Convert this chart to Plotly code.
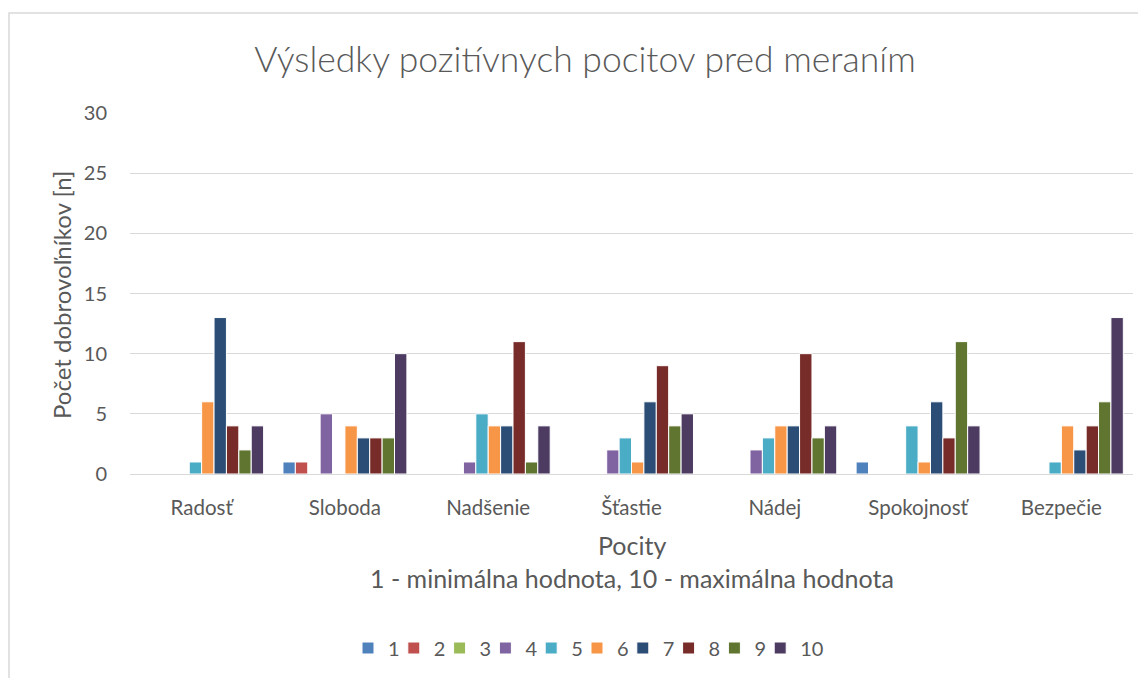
import plotly.graph_objects as go

categories = ["Radosť", "Sloboda", "Nadšenie", "Šťastie", "Nádej", "Spokojnosť", "Bezpečie"]
series_names = ["1", "2", "3", "4", "5", "6", "7", "8", "9", "10"]
s1 = [0, 1, 0, 0, 0, 1, 0]
s2 = [0, 1, 0, 0, 0, 0, 0]
s3 = [0, 0, 0, 0, 0, 0, 0]
s4 = [0, 5, 1, 2, 2, 0, 0]
s5 = [1, 0, 5, 3, 3, 4, 1]
s6 = [6, 4, 4, 1, 4, 1, 4]
s7 = [13, 3, 4, 6, 4, 6, 2]
s8 = [4, 3, 11, 9, 10, 3, 4]
s9 = [2, 3, 1, 4, 3, 11, 6]
s10 = [4, 10, 4, 5, 4, 4, 13]
series_values = [s1, s2, s3, s4, s5, s6, s7, s8, s9, s10]
colors = ["#4F81BD", "#C0504D", "#9BBB59", "#8064A2", "#4BACC6",
          "#F79646", "#2C4D75", "#772C2A", "#5F7530", "#4D3B62"]

FONT = "Lato"
TXT = "#595959"

OFF = 8  # page body margin
W, H = 1146 - OFF, 678 - OFF
# plot area in page coordinates
PL, PR, PT, PB = 130, 1133, 113, 474
L, T = PL - OFF, PT - OFF
R = W - (PR - OFF)
B = H - (PB - OFF)
pw, ph = PR - PL, PB - PT

def px_x(x):
    return (x - PL) / pw

def px_y(y):
    return (PB - y) / ph

fig = go.Figure()
legend_layouts = {}
LEG_X0, LEG_STEP = 348, 45.8
for i, (name, vals, col) in enumerate(zip(series_names, series_values, colors)):
    lname = "legend" if i == 0 else f"legend{i + 1}"
    fig.add_trace(go.Bar(
        x=categories, y=vals, name=name, legend=lname,
        marker=dict(color=col, line=dict(color="white", width=1)),
    ))
    legend_layouts[lname] = dict(
        orientation="h", x=px_x(LEG_X0 + LEG_STEP * i), xanchor="left",
        y=px_y(648), yanchor="middle", bgcolor="rgba(0,0,0,0)",
        font=dict(size=20, color=TXT), itemwidth=30,
    )

fig.update_layout(
    width=W, height=H,
    margin=dict(l=L, r=R, t=T, b=B, autoexpand=False),
    paper_bgcolor="white", plot_bgcolor="white",
    barmode="group", bargap=0.135, bargroupgap=0,
    font=dict(family=FONT, color=TXT),
    title=dict(text="Výsledky pozitívnych pocitov pred meraním",
               x=px_x(585), xanchor="center", xref="paper",
               y=1 - (60 - OFF) / H, yanchor="middle",
               font=dict(family=FONT, size=35.5, color=TXT, weight=300)),
    xaxis=dict(showgrid=False, showline=True, linecolor="#d9d9d9", linewidth=1.3,
               tickfont=dict(size=20.5, color=TXT), ticks="", ticklabelstandoff=15),
    yaxis=dict(range=[0, 30], tickvals=[0, 5, 10, 15, 20, 25, 30],
               showgrid=True, gridcolor="#d9d9d9", gridwidth=1.3,
               zeroline=True, zerolinecolor="#d9d9d9", zerolinewidth=1.3,
               tickfont=dict(size=20, color=TXT), ticks="", ticklabelstandoff=22),
    showlegend=True,
    **legend_layouts,
)

fig.add_annotation(text="Počet dobrovoľníkov [n]", textangle=-90,
                   x=px_x(61), y=px_y(295), xref="paper", yref="paper",
                   showarrow=False, font=dict(size=24, color=TXT),
                   xanchor="center", yanchor="middle")
fig.add_annotation(text="Pocity",
                   x=0.5, y=px_y(545), xref="paper", yref="paper",
                   showarrow=False, font=dict(size=25, color=TXT),
                   xanchor="center", yanchor="middle")
fig.add_annotation(text="1 - minimálna hodnota, 10 - maximálna hodnota",
                   x=0.5, y=px_y(578), xref="paper", yref="paper",
                   showarrow=False, font=dict(size=25, color=TXT),
                   xanchor="center", yanchor="middle")

fig.add_shape(type="rect", xref="paper", yref="paper",
              x0=px_x(9), x1=px_x(1160), y0=px_y(700), y1=px_y(13),
              line=dict(color="#d9d9d9", width=1.5), fillcolor="rgba(0,0,0,0)",
              layer="below")

fig.write_html("out.html")
